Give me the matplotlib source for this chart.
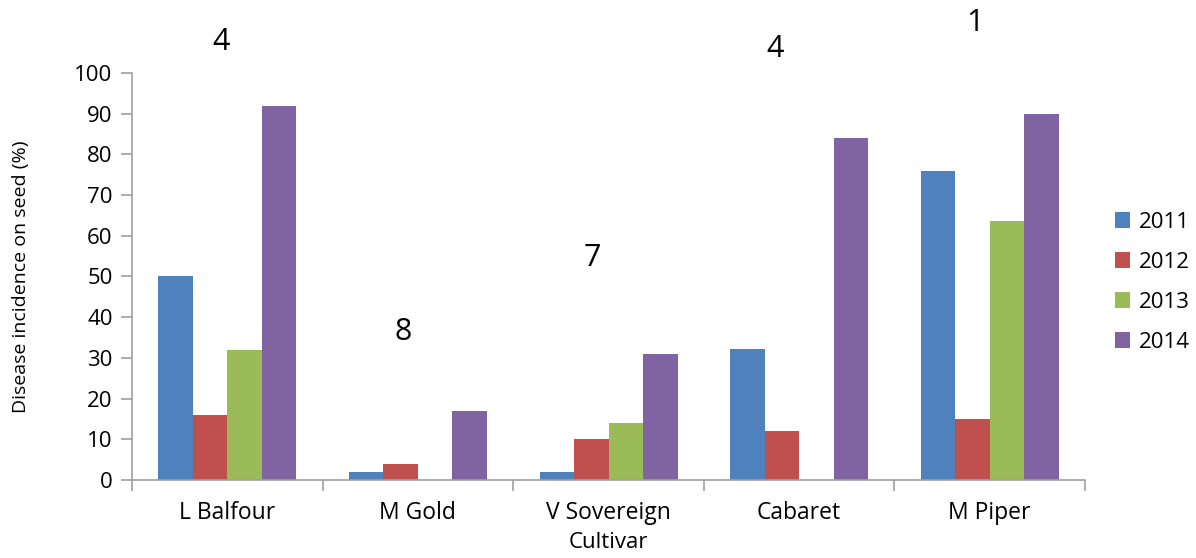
import numpy as np
import matplotlib.pyplot as plt

plt.rcParams['font.family'] = ['Open Sans', 'DejaVu Sans']

cultivars = ["L Balfour", "M Gold", "V Sovereign", "Cabaret", "M Piper"]
years = ["2011", "2012", "2013", "2014"]
inc_2011 = [50, 2, 2, 32.3, 76]
inc_2012 = [16, 4, 10, 12, 15]
inc_2013 = [32, 0, 14, 0, 63.7]
inc_2014 = [92, 17, 31, 84, 90]
colors = ["#4F81BD", "#C0504D", "#9BBB59", "#8064A2"]

# rank printed over each cultivar, with where it sits
ranks = ["4", "8", "7", "4", "1"]
rank_x = [-0.03, 0.924, 1.914, 2.872, 3.924]
rank_y = [107.5, 36.3, 54.5, 106, 112.4]

series = [inc_2011, inc_2012, inc_2013, inc_2014]

fig = plt.figure(figsize=(11.96, 5.58), dpi=100)
ax = fig.add_axes([0.1104, 0.1398, 0.7968, 0.7294])

x = np.arange(len(cultivars))
w = 0.181
for i, (vals, yr, c) in enumerate(zip(series, years, colors)):
    ax.bar(x + (i - 1.5) * w, vals, width=w, color=c, label=yr)

for rx, r, ry in zip(rank_x, ranks, rank_y):
    ax.text(rx, ry, r, ha="center", va="center", fontsize=22, clip_on=False)

ax.set_xlim(-0.5, len(cultivars) - 0.5)
ax.set_ylim(0, 100)
ax.set_yticks(range(0, 101, 10))
ax.set_xticks(x)
ax.set_xticklabels(cultivars)
ax.set_xticks(np.arange(-0.5, len(cultivars)), minor=True)

grey = "#A0A0A0"
for s in ["top", "right"]:
    ax.spines[s].set_visible(False)
for s in ["left", "bottom"]:
    ax.spines[s].set_color(grey)
    ax.spines[s].set_linewidth(1.2)
ax.tick_params(axis="y", labelsize=16, length=8, color=grey, width=1.2, pad=6)
ax.tick_params(axis="x", which="major", length=0, labelsize=16.5, pad=15)
ax.tick_params(axis="x", which="minor", length=8, color=grey, width=1.2)

ax.set_ylabel("Disease incidence on seed (%)", fontsize=14, labelpad=32)
ax.set_xlabel("Cultivar", fontsize=16, labelpad=5)

ax.legend(loc="center left", bbox_to_anchor=(1.031, 0.486), frameon=False,
          fontsize=16, handlelength=0.7, handleheight=0.7, handletextpad=0.4,
          labelspacing=0.85, borderaxespad=0, borderpad=0)

plt.savefig("out.png", dpi=100)
